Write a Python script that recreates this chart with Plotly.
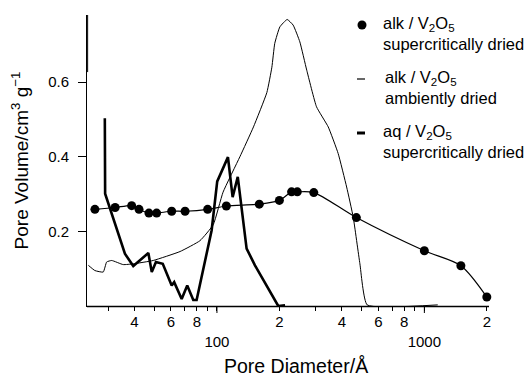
import math
import plotly.graph_objects as go

# alk / V2O5 supercritically dried (dots)
alk_sc_d = [25.8, 32.3, 38.8, 42.1, 47.0, 51.2, 60.5, 70.2, 90.2, 111, 160, 200, 229, 244, 293, 470, 1000, 1500, 2000]
alk_sc_v = [0.259, 0.264, 0.269, 0.259, 0.249, 0.249, 0.254, 0.254, 0.259, 0.268, 0.273, 0.283, 0.306, 0.306, 0.304, 0.237, 0.148, 0.108, 0.024]

# alk / V2O5 ambiently dried (thin line)
alk_amb_d = [23.8, 23.8, None, 24.0, 25.8, 28.3, 29.4, 31.1, 35.3, 39.5, 49.3, 66.4, 82.8, 96, 107, 129, 150, 174, 184,
             190, 201, 218, 233, 251, 271, 302, 344, 384, 422, 454, 489, 530, 1160]
alk_amb_v = [0.78, 0.627, None, 0.109, 0.095, 0.091, 0.118, 0.122, 0.111, 0.113, 0.122, 0.146, 0.175, 0.218, 0.305, 0.400, 0.480, 0.572, 0.640,
             0.704, 0.748, 0.768, 0.753, 0.708, 0.632, 0.534, 0.480, 0.409, 0.319, 0.238, 0.113, 0.003, 0.003]

# aq / V2O5 supercritically dried (thick line)
aq_sc_d = [28.8, 28.9, 36.0, 39.5, 46.7, 48.5, 50.8, 54.8, 60.5, 62.2, 67.6, 71.9, 76.9, 79.8, 94.3, 100.3, 113, 119, 126, 139, 152.5, 197.5, 213]
aq_sc_v = [0.503, 0.301, 0.140, 0.107, 0.142, 0.091, 0.118, 0.113, 0.055, 0.064, 0.019, 0.055, 0.016, 0.016, 0.203, 0.334, 0.399, 0.292, 0.346, 0.154, 0.109, 0.0, 0.002]

x_tickvals = [40, 60, 80, 100, 200, 400, 600, 800, 1000, 2000]
x_ticktext = ["4", "6", "8", "<br>100", "2", "4", "6", "8", "<br>1000", "2"]
x_minor_vals = [30, 50, 70, 90, 300, 500, 700, 900]
x_major = [100, 1000]
y_tickvals = [0.2, 0.4, 0.6]
y_ticktext = ["0.2", "0.4", "0.6"]

x_title = "Pore Diameter/Å"
y_title = "Pore Volume/cm<sup>3</sup> g<sup>−1</sup>"
legend_names = [
    "alk / V<sub>2</sub>O<sub>5</sub><br>supercritically dried",
    "alk / V<sub>2</sub>O<sub>5</sub><br>ambiently dried",
    "aq / V<sub>2</sub>O<sub>5</sub><br>supercritically dried",
]

FONT = "Liberation Sans, Arial, Helvetica, sans-serif"
XR = [1.3735, 3.302]

# plot-area geometry (px) for placing the hand-made legend
L, R, T, B = 87, 487, 15, 306
def px(xp):
    return (xp - L) / (R - L)
def py(yp):
    return (B - yp) / (B - T)
def xfrac(v):
    return (math.log10(v) - XR[0]) / (XR[1] - XR[0])

fig = go.Figure()
fig.add_trace(go.Scatter(x=alk_amb_d, y=alk_amb_v, mode="lines", line=dict(color="black", width=1, shape="spline", smoothing=0.4),
                         connectgaps=False, showlegend=False, hoverinfo="skip"))
fig.add_trace(go.Scatter(x=aq_sc_d, y=aq_sc_v, mode="lines", line=dict(color="black", width=2.6),
                         showlegend=False, hoverinfo="skip"))
fig.add_trace(go.Scatter(x=alk_sc_d, y=alk_sc_v, mode="lines+markers", line=dict(color="black", width=1.2, shape="spline", smoothing=0.8),
                         marker=dict(color="black", size=9), showlegend=False, hoverinfo="skip", cliponaxis=False))

# legend: symbols + text
legend_text_x = [381, 383, 381]
legend_text_top = [12, 66, 120]
for name, tx, ty in zip(legend_names, legend_text_x, legend_text_top):
    fig.add_annotation(xref="paper", yref="paper", x=px(tx), y=py(ty), xanchor="left", yanchor="top",
                       text=name, showarrow=False, align="left", font=dict(size=16.5, family=FONT, color="black"))
fig.add_shape(type="circle", xref="paper", yref="paper", x0=px(357.5), x1=px(366.5), y0=py(20.5), y1=py(29.5),
              fillcolor="black", line=dict(color="black", width=0))
fig.add_shape(type="line", xref="paper", yref="paper", x0=px(357), x1=px(365), y0=py(79), y1=py(79),
              line=dict(color="black", width=1.2))
fig.add_shape(type="line", xref="paper", yref="paper", x0=px(357), x1=px(365), y0=py(133), y1=py(133),
              line=dict(color="black", width=3))
# x-axis base line and longer ticks at the decades (paper-referenced so they are not clipped)
fig.add_shape(type="line", xref="paper", yref="paper", x0=0, x1=px(489), y0=py(B + 0.5), y1=py(B + 0.5),
              line=dict(color="black", width=1.3), layer="above")
for dv in x_major:
    fig.add_shape(type="line", xref="paper", yref="paper", x0=xfrac(dv), x1=xfrac(dv), y0=py(B), y1=py(B + 7),
                  line=dict(color="black", width=1), layer="above")

# x-axis title
fig.add_annotation(xref="paper", yref="paper", x=px(296), y=py(366), xanchor="center", yanchor="middle",
                   text=x_title, showarrow=False, font=dict(size=19.5, family=FONT, color="black"))

fig.update_layout(
    width=526, height=376,
    margin=dict(l=L, r=526 - R, t=T, b=376 - B),
    paper_bgcolor="white", plot_bgcolor="white",
    font=dict(family=FONT, color="black", size=15),
    showlegend=False,
    xaxis=dict(type="log", range=XR, tickmode="array", tickvals=x_tickvals, ticktext=x_ticktext, tickangle=0,
               ticks="outside", ticklen=4, tickwidth=1, tickcolor="black", showline=True, linecolor="black", linewidth=1,
               minor=dict(tickmode="array", tickvals=x_minor_vals, ticks="outside", ticklen=4, tickwidth=1, tickcolor="black", showgrid=False),
               showgrid=False, zeroline=False, tickfont=dict(size=15), ticklabelstandoff=-2, automargin=False),
    yaxis=dict(range=[0, 0.78], tickmode="array", tickvals=y_tickvals, ticktext=y_ticktext,
               ticks="outside", ticklen=8, tickwidth=1, tickcolor="black", showline=True, linecolor="black", linewidth=1,
               showgrid=False, zeroline=False,
               tickfont=dict(size=15), ticklabelstandoff=6, automargin=False,
               title=dict(text=y_title, font=dict(size=19), standoff=14)),
)

fig.write_html("out.html", config={"displayModeBar": False}, post_script="document.body.style.margin='0';")
